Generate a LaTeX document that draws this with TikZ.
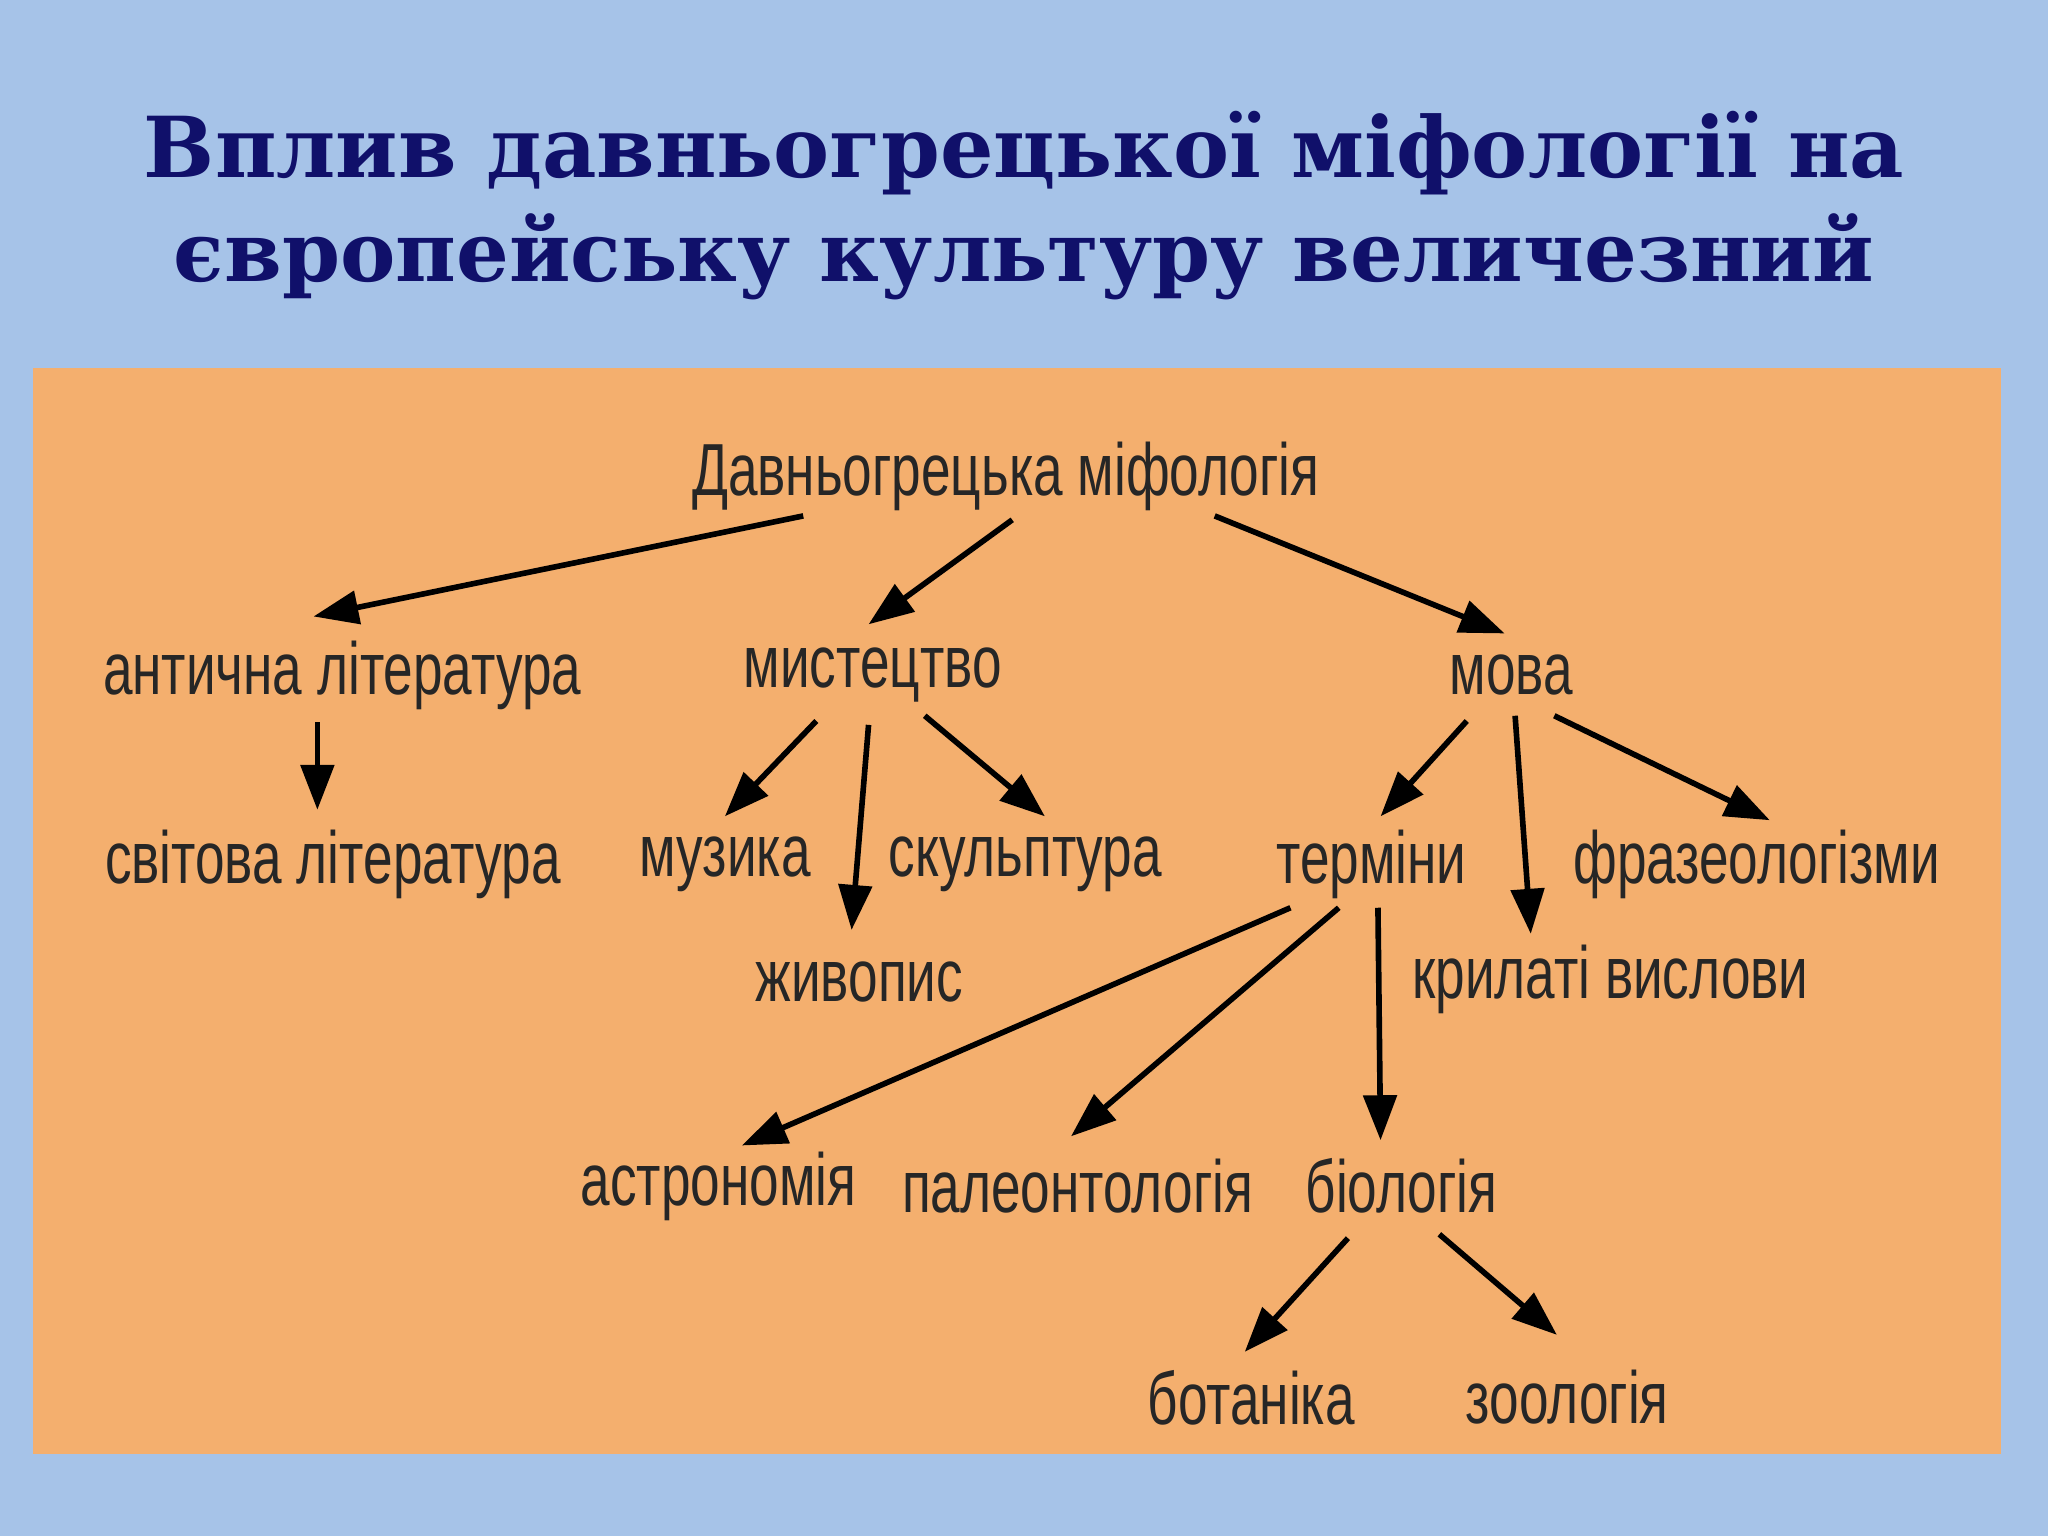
\documentclass[tikz,border=0pt]{standalone}
\usepackage{fontspec}
\setmainfont{Liberation Sans}
\newfontfamily\titlefont{DejaVu Serif}
\usetikzlibrary{arrows.meta}
\definecolor{bgblue}{HTML}{A6C3E8}
\definecolor{panel}{HTML}{F4AF6E}
\definecolor{navy}{HTML}{10106A}
\newcommand{\nt}[1]{\scalebox{0.72}[1]{#1}}
\tikzset{lbl/.style={inner sep=0pt,font=\fontsize{21}{24}\selectfont,text=black!85},
arr/.style={line width=1.6pt,-{Triangle[length=0.45cm,width=0.33cm]}}}
\begin{document}
\begin{tikzpicture}[x=0.013061cm,y=-0.013061cm]
\useasboundingbox (0,0) rectangle (1568,1176);
\fill[bgblue] (0,0) rectangle (1568,1176);
\fill[panel] (25,282) rectangle (1532,1113);
\node[text=navy,inner sep=0pt] (t1) at (784,117) {\resizebox{17.6cm}{!}{\titlefont\bfseries Вплив давньогрецької міфології на}};
\node[text=navy,inner sep=0pt] (t2) at (784,197) {\resizebox{17.0cm}{!}{\titlefont\bfseries європейську культуру величезний}};
\node[lbl] (root) at (770,365) {\nt{Давньогрецька міфологія}};
\node[lbl] (ant) at (262,517) {\nt{антична література}};
\node[lbl] (myst) at (668,517) {\nt{мистецтво}};
\node[lbl] (mova) at (1157,517) {\nt{мова}};
\node[lbl] (svit) at (255,662) {\nt{світова література}};
\node[lbl] (muz) at (555,662) {\nt{музика}};
\node[lbl] (skul) at (785,662) {\nt{скульптура}};
\node[lbl] (zhyv) at (658,752) {\nt{живопис}};
\node[lbl] (term) at (1050,662) {\nt{терміни}};
\node[lbl] (fraz) at (1345,662) {\nt{фразеологізми}};
\node[lbl] (kryl) at (1233,750) {\nt{крилаті вислови}};
\node[lbl] (astr) at (550,908) {\nt{астрономія}};
\node[lbl] (pal) at (825,908) {\nt{палеонтологія}};
\node[lbl] (bio) at (1073,908) {\nt{біологія}};
\node[lbl] (bot) at (958,1070) {\nt{ботаніка}};
\node[lbl] (zool) at (1200,1070) {\nt{зоологія}};
\foreach \n/\a/\b/\c/\d in {a1/615/395/240/472, a2/775/398/665/478, a3/930/395/1152/485,
 a4/243/553/243/620, a5/625/552/555/625, a6/665/555/652/712, a7/708/548/800/625,
 a8/1123/552/1057/625, a9/1160/548/1172/715, a10/1190/548/1355/628,
 a11/988/695/568/877, a12/1025/695/820/870, a13/1055/695/1057/873,
 a14/1032/948/953/1035, a15/1102/945/1192/1022}{
 \coordinate (\n s) at (\a,\b); \coordinate (\n e) at (\c,\d);
 \draw[arr] (\n s) -- (\n e);}
\end{tikzpicture}
\end{document}
